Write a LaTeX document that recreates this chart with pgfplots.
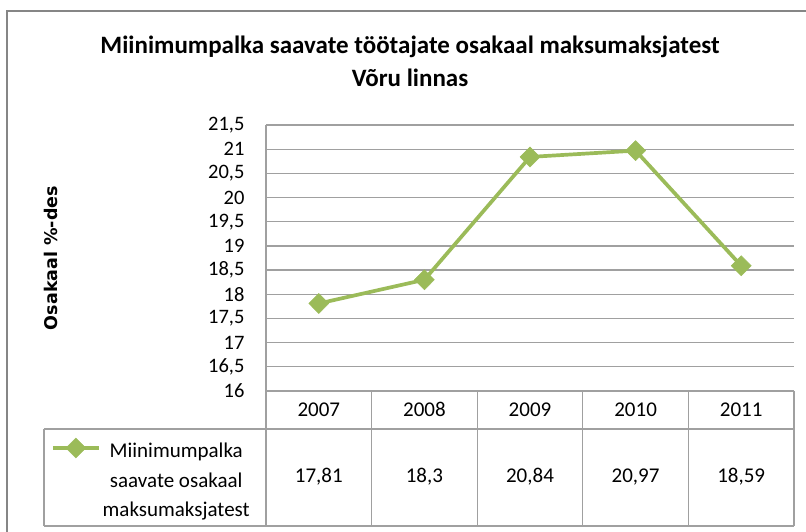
\documentclass[border=0pt]{standalone}
\usepackage{pgfplots}
\pgfplotsset{compat=1.18}
\usepackage{fontspec}
\setmainfont{Carlito}
\newfontfamily\dejavu{DejaVu Sans}
\definecolor{lgreen}{RGB}{155,187,89}
\definecolor{gridgray}{RGB}{160,160,160}
\definecolor{framegray}{RGB}{134,134,134}
\begin{document}
\begin{tikzpicture}
\path[use as bounding box] (-266pt,-141pt) rectangle (540pt,391pt);
\draw[framegray, line width=1.5pt] (540pt,380pt) -- (-259pt,380pt) -- (-259pt,-141pt);
\node[font=\bfseries\fontsize{25}{29}\selectfont] at (144pt,344pt) {Miinimumpalka saavate töötajate osakaal maksumaksjatest};
\node[font=\bfseries\fontsize{25}{29}\selectfont] at (144pt,313pt) {Võru linnas};
\node[rotate=90, font=\dejavu\bfseries\fontsize{17.5}{21}\selectfont] at (-215pt,133pt) {Osakaal \%-des};
\begin{axis}[
  at={(0pt,0pt)}, anchor=south west,
  width=528pt, height=266pt, scale only axis,
  xmin=-0.5, xmax=4.5, ymin=16, ymax=21.5,
  xtick={0,1,2,3,4}, xticklabels={2007,2008,2009,2010,2011},
  ytick={16,16.5,17,17.5,18,18.5,19,19.5,20,20.5,21,21.5},
  ymajorgrids, grid style={gridgray, line width=1.2pt},
  axis y line*=left, axis x line*=bottom,
  axis line style={gridgray, line width=1.2pt},
  major tick length=0pt, tick style={draw=none},
  yticklabel style={font=\fontsize{20.5}{24}\selectfont, xshift=-18pt},
  xticklabel style={font=\fontsize{21}{25}\selectfont, anchor=base, inner sep=0pt, yshift=-25.6pt},
  /pgf/number format/assume math mode=true,
  /pgf/number format/use comma,
  clip=false,
  legend image code/.code={\draw[mark repeat=2,mark phase=2] plot coordinates {(0pt,0pt) (23pt,0pt) (46pt,0pt)};},
  legend style={at={(-0.2171,-0.2143)}, anchor=center, draw=none, fill=none,
    font=\fontsize{21}{29.5}\selectfont},
]
\addplot[lgreen, line width=3.7pt, mark=diamond*, mark size=10pt,
  mark options={xscale=1.33, line width=0.5pt, solid, fill=lgreen}]
  coordinates {(0,17.81) (1,18.3) (2,20.84) (3,20.97) (4,18.59)};
\addlegendentry{\begin{tabular}[t]{@{}c@{}}Miinimumpalka\\saavate osakaal\\maksumaksjatest\end{tabular}}
\addplot[forget plot, draw=none, mark=none, nodes near coords, point meta=explicit,
  nodes near coords style={anchor=center, yshift=-86pt, font=\fontsize{21}{25}\selectfont}]
  coordinates {(0,16) [17.81] (1,16) [18.3] (2,16) [20.84] (3,16) [20.97] (4,16) [18.59]};
\end{axis}
\draw[gridgray, line width=1.2pt] (-222pt,-38pt) -- (528pt,-38pt);
\draw[gridgray, line width=1.2pt] (-222pt,-135pt) -- (528pt,-135pt);
\draw[gridgray, line width=1.2pt] (-222pt,-38pt) -- (-222pt,-135pt);
\foreach \xx in {0,105.6,211.2,316.8,422.4,528} {
  \draw[gridgray, line width=1.2pt] (\xx pt,0pt) -- (\xx pt,-135pt);
}
\end{tikzpicture}
\end{document}
